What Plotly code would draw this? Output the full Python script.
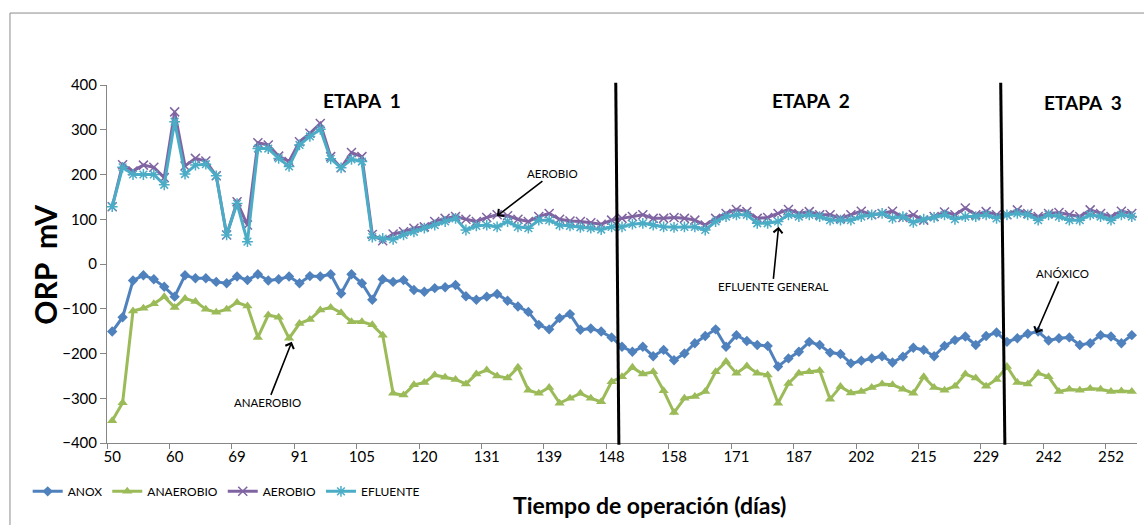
import plotly.graph_objects as go

# ORP readings (mV), one value per sampling point
ANOX = [-151, -119, -37, -25, -34, -51, -73, -25, -32, -32, -40, -43, -28, -36, -23, -37, -34, -28, -43, -27,
        -28, -23, -66, -23, -43, -80, -34, -40, -36, -58, -62, -54, -52, -47, -72, -80, -73, -67, -82, -95,
        -107, -136, -146, -121, -112, -147, -144, -151, -164, -185, -196, -185, -206, -192, -215, -200, -177, -161, -146, -185,
        -159, -172, -181, -183, -229, -211, -196, -174, -181, -198, -201, -222, -216, -211, -206, -220, -207, -187, -192, -206,
        -183, -170, -162, -181, -161, -153, -174, -166, -156, -151, -171, -166, -164, -181, -177, -159, -162, -177, -159]

ANAEROBIO = [-350, -310, -105, -99, -89, -73, -97, -77, -84, -101, -108, -101, -86, -94, -164, -114, -119, -166, -133, -124,
             -103, -97, -109, -129, -129, -136, -159, -289, -293, -270, -265, -248, -253, -258, -268, -246, -237, -250, -255, -231,
             -282, -289, -276, -311, -300, -289, -300, -308, -263, -252, -231, -246, -241, -283, -332, -300, -296, -285, -241, -218,
             -244, -228, -244, -248, -311, -267, -244, -241, -238, -302, -274, -288, -285, -276, -268, -270, -280, -289, -252, -276,
             -282, -273, -246, -255, -273, -258, -229, -265, -268, -244, -252, -285, -280, -282, -278, -280, -285, -284, -285]

AEROBIO = [128, 222, 208, 221, 216, 193, 340, 219, 236, 230, 197, 65, 139, 87, 271, 266, 241, 229, 273, 292,
           314, 240, 215, 249, 240, 66, 52, 67, 72, 80, 83, 95, 102, 106, 100, 95, 104, 110, 108, 100,
           95, 106, 113, 100, 96, 95, 92, 89, 98, 102, 106, 110, 102, 102, 104, 102, 98, 87, 102, 113,
           122, 117, 102, 104, 113, 122, 113, 117, 110, 110, 102, 110, 118, 110, 113, 118, 104, 110, 98, 106,
           116, 110, 125, 110, 117, 110, 110, 121, 113, 106, 113, 115, 110, 106, 121, 113, 106, 118, 113]

EFLUENTE = [128, 216, 200, 200, 200, 177, 318, 201, 221, 223, 197, 65, 135, 50, 258, 258, 236, 218, 266, 285,
            301, 235, 215, 234, 229, 60, 57, 55, 65, 72, 80, 87, 95, 102, 76, 85, 87, 83, 95, 83,
            80, 98, 98, 87, 85, 82, 80, 77, 83, 83, 89, 91, 87, 83, 82, 83, 83, 76, 95, 106,
            110, 110, 91, 91, 95, 110, 106, 110, 106, 98, 98, 98, 106, 110, 113, 102, 106, 93, 100, 104,
            110, 100, 106, 106, 110, 102, 110, 113, 110, 98, 110, 106, 98, 98, 110, 106, 98, 110, 106]

# day labels shown on the category axis, one every 6 samples
DIAS = ["50", "60", "69", "91", "105", "120", "131", "139", "148", "158",
        "171", "187", "202", "215", "229", "242", "252"]
PASO_ETIQUETA = 6

# stage boundaries (sample position) and stage titles
LIMITES_ETAPA = [48.55, 85.6]
ETAPAS = [("ETAPA  1", 24.0, 366), ("ETAPA  2", 67.2, 366), ("ETAPA  3", 93.3, 362)]

FONT = "Lato, 'Open Sans', sans-serif"
n = len(ANOX)
muestra = list(range(n))

series = [
    ("ANOX", ANOX, "#4F81BD", dict(symbol="diamond", size=8)),
    ("ANAEROBIO", ANAEROBIO, "#9BBB59", dict(symbol="triangle-up", size=9)),
    ("AEROBIO", AEROBIO, "#8064A2", dict(symbol="x-thin-open", size=9, line=dict(width=1.5))),
    ("EFLUENTE", EFLUENTE, "#4BACC6", dict(symbol="asterisk-open", size=9, line=dict(width=1.5))),
]

fig = go.Figure()
for nombre, valores, color, marcador in series:
    mk = dict(color=color, **marcador)
    if "line" in mk:
        mk["line"] = dict(color=color, **mk["line"])
    else:
        mk["line"] = dict(color=color, width=0)
    fig.add_trace(go.Scatter(
        x=muestra, y=valores, name=nombre, mode="lines+markers",
        line=dict(color=color, width=3), marker=mk,
    ))

tick_pos = muestra[::PASO_ETIQUETA][:len(DIAS)]
limites = [p - 0.5 for p in range(0, n + 1, PASO_ETIQUETA)]

fig.update_xaxes(
    range=[-0.5, n - 0.5], tickmode="array", tickvals=tick_pos, ticktext=DIAS,
    ticks="", showline=True, linecolor="#868686", linewidth=1,
    showgrid=False, zeroline=False,
    tickfont=dict(family=FONT, size=15, color="#000"),
    minor=dict(tickmode="array", tickvals=limites, ticks="outside", ticklen=5,
               tickcolor="#868686", showgrid=False),
    automargin=False,
)
fig.update_yaxes(
    range=[-400, 400], dtick=100, tick0=0, ticks="outside", ticklen=6,
    tickcolor="#868686", showline=True, linecolor="#868686", linewidth=1,
    showgrid=False, zeroline=False,
    tickfont=dict(family=FONT, size=15, color="#000"),
    automargin=False,
)

shapes = []
# chart frame
shapes.append(dict(type="rect", xref="paper", yref="paper",
                   x0=-0.0942, x1=1.02, y0=-0.26, y1=1.201,
                   line=dict(color="#8C8C8C", width=1), fillcolor="rgba(0,0,0,0)", layer="below"))
# stage separators
for xb, dx in zip(LIMITES_ETAPA, [0.3, 0.4]):
    shapes.append(dict(type="line", xref="x", yref="paper",
                       x0=xb - dx / 2, x1=xb + dx / 2, y0=1.006, y1=-0.005,
                       line=dict(color="#000", width=3)))

annotations = []
# axis titles
annotations.append(dict(x=0.527, y=-0.173, xref="paper", yref="paper",
                        text="<b>Tiempo de operación (días)</b>", showarrow=False,
                        xanchor="center", yanchor="middle",
                        font=dict(family=FONT, size=23, color="#000")))
annotations.append(dict(x=-0.0605, y=0.497, xref="paper", yref="paper",
                        text="<b>ORP  mV</b>", showarrow=False, textangle=-90,
                        xanchor="center", yanchor="middle",
                        font=dict(family=FONT, size=30, color="#000")))

for texto, xpos, ypos in ETAPAS:
    annotations.append(dict(x=xpos, y=ypos, xref="x", yref="y", text=f"<b>{texto}</b>",
                            showarrow=False, font=dict(family=FONT, size=19, color="#000")))

flechas = [
    ("AEROBIO", 36.97, 107, 56, -43),
    ("EFLUENTE GENERAL", 64.05, 83, -6, 60),
    ("ANAEROBIO", 17.26, -174, -24, 61),
    ("ANÓXICO", 88.8, -155, 26, -60),
]
for texto, xa, ya, ax, ay in flechas:
    annotations.append(dict(x=xa, y=ya, xref="x", yref="y", text=texto, showarrow=True,
                            ax=ax, ay=ay, arrowhead=4, arrowsize=1.1, arrowwidth=1.6,
                            arrowcolor="#000", standoff=0,
                            font=dict(family=FONT, size=11.5, color="#000")))

fig.update_layout(
    width=1144, height=525,
    margin=dict(l=107, r=7, t=85, b=82),
    paper_bgcolor="white", plot_bgcolor="white",
    font=dict(family=FONT, color="#000"),
    shapes=shapes, annotations=annotations,
    legend=dict(orientation="h", x=-0.077, y=-0.135, xanchor="left", yanchor="middle",
                font=dict(family=FONT, size=12, color="#000"), itemwidth=30,
                bgcolor="rgba(0,0,0,0)", traceorder="normal"),
    showlegend=True,
)

fig.write_html("out.html")
